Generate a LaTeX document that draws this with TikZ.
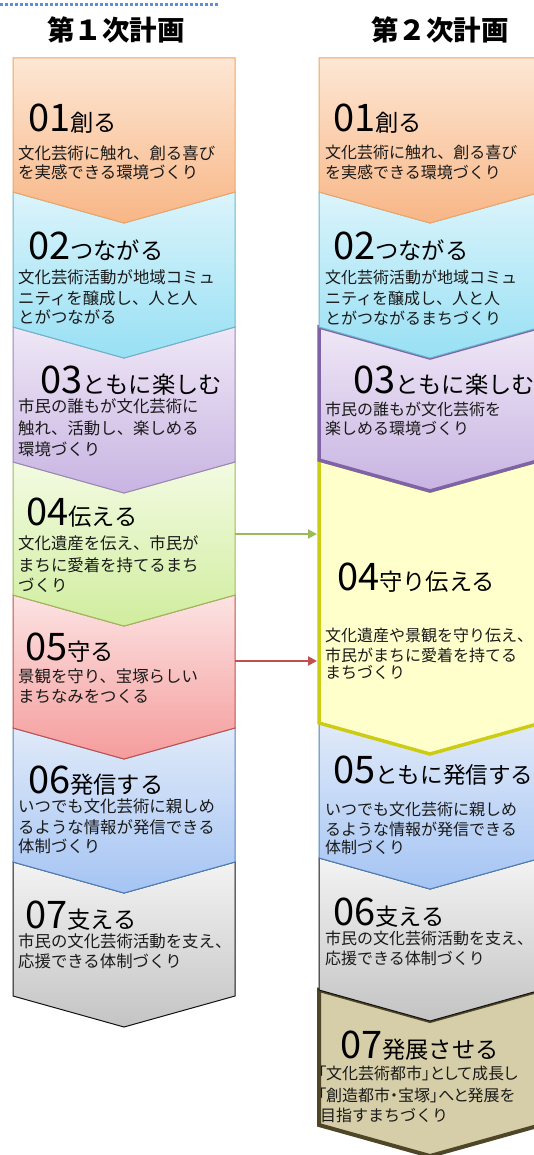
\documentclass[tikz,border=0pt]{standalone}
\usepackage{fontspec}
\setmainfont{Noto Sans CJK JP}
\newfontfamily\jpprop{Noto Sans CJK JP}[RawFeature=+palt]
\usetikzlibrary{arrows.meta}
\definecolor{oT}{HTML}{FDE7D4}\definecolor{oB}{HTML}{F8B686}\definecolor{oD}{HTML}{F0A465}
\definecolor{cT}{HTML}{DBF4FB}\definecolor{cB}{HTML}{98E0F4}\definecolor{cD}{HTML}{6BB5C9}
\definecolor{pT}{HTML}{EFE7F6}\definecolor{pB}{HTML}{C8B4E2}\definecolor{pD}{HTML}{9A86BA}
\definecolor{gT}{HTML}{F3FBE2}\definecolor{gB}{HTML}{D0ED9E}\definecolor{gD}{HTML}{9BBB59}
\definecolor{rT}{HTML}{FCE3E3}\definecolor{rB}{HTML}{F59C9C}\definecolor{rD}{HTML}{C0504D}
\definecolor{bT}{HTML}{E0EAF9}\definecolor{bB}{HTML}{A5C4F3}\definecolor{bD}{HTML}{4F81BD}
\definecolor{kT}{HTML}{F3F3F3}\definecolor{kB}{HTML}{C4C4C4}\definecolor{kD}{HTML}{111111}
\definecolor{yF}{HTML}{FFFFCC}\definecolor{yD}{HTML}{CCCC14}
\definecolor{hF}{HTML}{D6CEA8}\definecolor{hD}{HTML}{4F4628}
\definecolor{pThick}{HTML}{7F63A6}
\definecolor{dotblue}{HTML}{5B8FD9}
\definecolor{txt}{HTML}{1A1A1A}
\newcommand{\chevpath}[5]{(#1,#4) -- (#2,#4+31) -- (#3,#4) -- (#3,#5) -- (#2,#5+31) -- (#1,#5) -- cycle}
\newcommand{\ttltext}[2]{{\fontsize{38}{38}\selectfont #1}{\fontsize{23.3}{24}\selectfont #2}}
\tikzset{
  desc/.style={anchor=west, inner sep=0pt, text=txt, font=\fontsize{16.4}{18}\selectfont},
  rdesc/.style={desc, font=\fontsize{16}{18}\selectfont},
  ttl/.style={anchor=base west, inner sep=0pt, text=black},
  head/.style={inner sep=0pt, text=black, font=\fontsize{27.5}{28}\selectfont\bfseries},
  conn/.style={line width=2pt, -{Triangle[length=9pt,width=9pt]}},
  chev/.style={line width=1pt},
}
\begin{document}
\begin{tikzpicture}[x=1pt,y=-1pt]
\useasboundingbox (0,0) rectangle (534,1155);
\clip (0,0) rectangle (534,1155);
\fill[white] (0,0) rectangle (534,1155);
% dotted line at top
\draw[dotblue, line width=3pt, dash pattern=on 3pt off 2pt] (0,5) -- (218,5);
% headings
\node[head] (h1) at (116,30) {第１次計画};
\node[head] (h2) at (440,30) {第２次計画};

% ---------- left column (bottom to top) ----------
\draw[chev, draw=kD, top color=kT, bottom color=kB] \chevpath{13}{124}{235}{862}{996};
\draw[chev, draw=bD, top color=bT, bottom color=bB] \chevpath{13}{124}{235}{728}{862};
\draw[chev, draw=rD, top color=rT, bottom color=rB] \chevpath{13}{124}{235}{595}{728};
\draw[chev, draw=gD, top color=gT, bottom color=gB] \chevpath{13}{124}{235}{462}{595};
\draw[chev, draw=pD, top color=pT, bottom color=pB] \chevpath{13}{124}{235}{327}{462};
\draw[chev, draw=cD, top color=cT, bottom color=cB] \chevpath{13}{124}{235}{192}{327};
\draw[chev, draw=oD, top color=oT, bottom color=oB] (13,58) -- (235,58) -- (235,192) -- (124,223) -- (13,192) -- cycle;

% ---------- right column (bottom to top) ----------
\draw[line width=4pt, draw=hD, fill=hF] \chevpath{319}{430}{541}{990}{1125};
\draw[chev, draw=kD, top color=kT, bottom color=kB] \chevpath{319}{430}{541}{858}{990};
\draw[chev, draw=bD, top color=bT, bottom color=bB] \chevpath{319}{430}{541}{723}{858};
\draw[line width=3.5pt, draw=yD, fill=yF] \chevpath{319}{430}{541}{460}{723};
\draw[line width=3.5pt, draw=pThick, top color=pT, bottom color=pB] \chevpath{319}{430}{541}{327}{460};
\draw[chev, draw=cD, top color=cT, bottom color=cB] \chevpath{319}{430}{541}{192}{327};
\draw[chev, draw=oD, top color=oT, bottom color=oB] (319,58) -- (541,58) -- (541,192) -- (430,223) -- (319,192) -- cycle;

% ---------- left texts ----------
\node[ttl] (lt1) at (28,132) {\ttltext{01}{創る}};
\node[desc] (ld1a) at (18,153) {文化芸術に触れ、創る喜び};
\node[desc] (ld1b) at (18,172) {を実感できる環境づくり};

\node[ttl] (lt2) at (28,260) {\ttltext{02}{つながる}};
\node[desc] (ld2a) at (18,277) {文化芸術活動が地域コミュ};
\node[desc] (ld2b) at (18,298) {ニティを醸成し、人と人};
\node[desc] (ld2c) at (18,317) {とがつながる};

\node[ttl] (lt3) at (40,393) {\ttltext{03}{ともに楽しむ}};
\node[desc] (ld3a) at (18,406) {市民の誰もが文化芸術に};
\node[desc] (ld3b) at (18,428) {触れ、活動し、楽しめる};
\node[desc] (ld3c) at (18,449) {環境づくり};

\node[ttl] (lt4) at (26,525) {\ttltext{04}{伝える}};
\node[desc] (ld4a) at (18,543) {文化遺産を伝え、市民が};
\node[desc] (ld4b) at (18,565) {まちに愛着を持てるまち};
\node[desc] (ld4c) at (18,585) {づくり};

\node[ttl] (lt5) at (25,660) {\ttltext{05}{守る}};
\node[desc] (ld5a) at (18,676) {景観を守り、宝塚らしい};
\node[desc] (ld5b) at (18,696) {まちなみをつくる};

\node[ttl] (lt6) at (28,793) {\ttltext{06}{発信する}};
\node[desc] (ld6a) at (18,806) {いつでも文化芸術に親しめ};
\node[desc] (ld6b) at (18,827) {るような情報が発信できる};
\node[desc] (ld6c) at (18,846) {体制づくり};

\node[ttl] (lt7) at (25,928) {\ttltext{07}{支える}};
\node[desc] (ld7a) at (18,941) {市民の文化芸術活動を支え、};
\node[desc] (ld7b) at (18,961) {応援できる体制づくり};

% ---------- right texts ----------
\node[ttl] (rt1) at (333,132) {\ttltext{01}{創る}};
\node[rdesc] (rd1a) at (325,153) {文化芸術に触れ、創る喜び};
\node[rdesc] (rd1b) at (325,172) {を実感できる環境づくり};

\node[ttl] (rt2) at (333,260) {\ttltext{02}{つながる}};
\node[rdesc] (rd2a) at (325,277) {文化芸術活動が地域コミュ};
\node[rdesc] (rd2b) at (325,298) {ニティを醸成し、人と人};
\node[rdesc] (rd2c) at (325,318) {とがつながるまちづくり};

\node[ttl] (rt3) at (353,393) {\ttltext{03}{ともに楽しむ}};
\node[rdesc] (rd3a) at (325,409) {市民の誰もが文化芸術を};
\node[rdesc] (rd3b) at (325,428) {楽しめる環境づくり};

\node[ttl] (rt4) at (337,590) {\ttltext{04}{守り伝える}};
\node[rdesc] (rd4a) at (325,635) {文化遺産や景観を守り伝え、};
\node[rdesc] (rd4b) at (325,655) {市民がまちに愛着を持てる};
\node[rdesc] (rd4c) at (325,672) {まちづくり};

\node[ttl] (rt5) at (333,783) {{\fontsize{38}{38}\selectfont 05}{\fontsize{22.6}{24}\selectfont ともに発信する}};
\node[rdesc] (rd5a) at (325,809) {いつでも文化芸術に親しめ};
\node[rdesc] (rd5b) at (325,829) {るような情報が発信できる};
\node[rdesc] (rd5c) at (325,847) {体制づくり};

\node[ttl] (rt6) at (333,925) {\ttltext{06}{支える}};
\node[rdesc] (rd6a) at (325,938) {市民の文化芸術活動を支え、};
\node[rdesc] (rd6b) at (325,958) {応援できる体制づくり};

\node[ttl] (rt7) at (340,1058) {\ttltext{07}{発展させる}};
\node[rdesc] (rd7a) at (318,1073) {\jpprop 「文化芸術都市」として成長し};
\node[rdesc] (rd7b) at (318,1095) {\jpprop 「創造都市・宝塚」へと発展を};
\node[rdesc] (rd7c) at (320,1115) {目指すまちづくり};

% ---------- connectors ----------
\coordinate (a4) at (235,534);
\coordinate (b4) at (317,534);
\coordinate (a5) at (235,661);
\coordinate (b5) at (317,661);
\draw[conn, gD] (a4) -- (b4);
\draw[conn, rD] (a5) -- (b5);
\end{tikzpicture}
\end{document}
